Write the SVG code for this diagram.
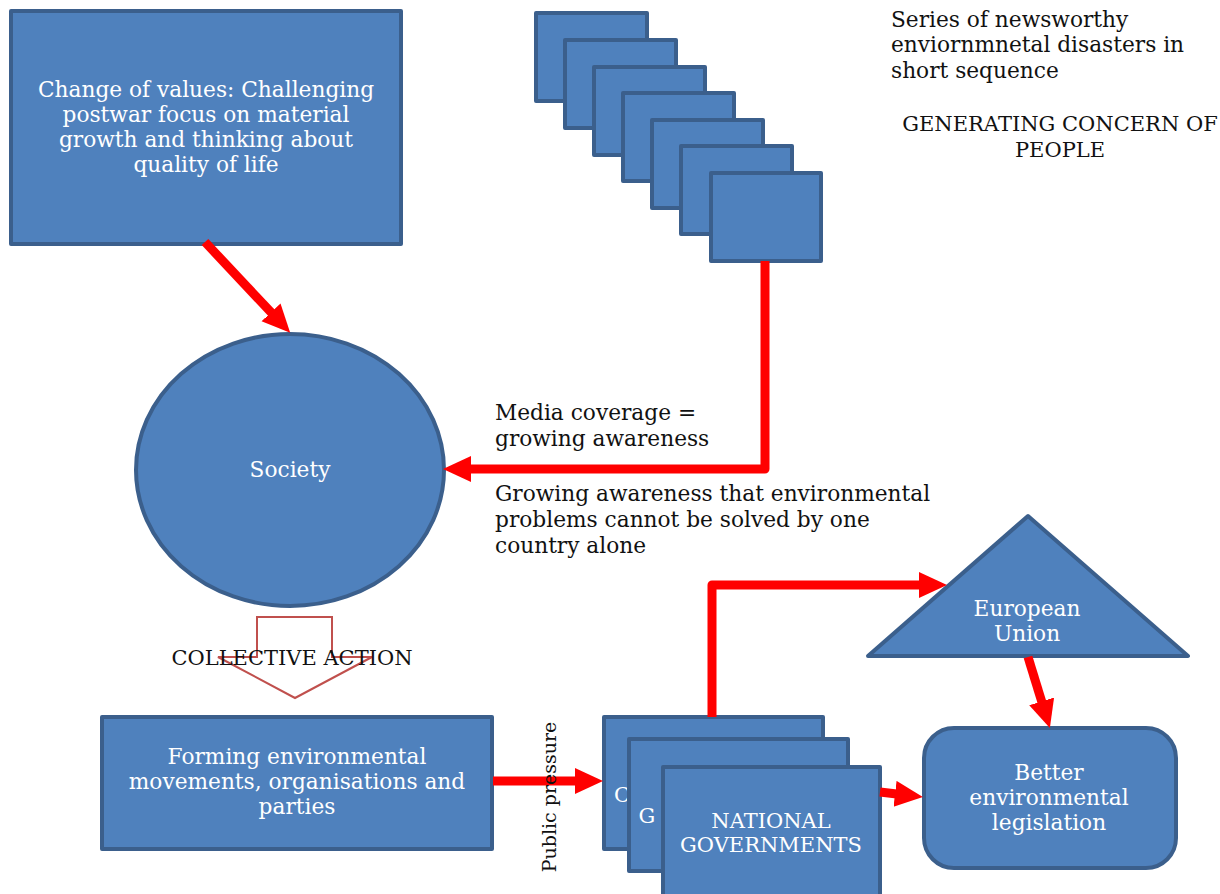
<svg xmlns="http://www.w3.org/2000/svg" width="1220" height="894" viewBox="0 0 1220 894">
<style>
.box{fill:#4f81bd;stroke:#3b5f8c;stroke-width:4;stroke-linejoin:round}
.wt{fill:#ffffff;font-family:"DejaVu Serif","Liberation Serif",serif;font-size:21.7px;text-anchor:middle}
.bt{fill:#111111;font-family:"DejaVu Serif","Liberation Serif",serif;font-size:21.7px}
.caps{font-size:21px}
.conn{fill:none;stroke:#ff0000;stroke-width:9;stroke-linejoin:round}
</style>
<defs>
<marker id="ah" markerUnits="userSpaceOnUse" markerWidth="30" markerHeight="28" refX="8" refY="13" orient="auto" viewBox="0 0 30 28">
<path d="M0,0 L28,13 L0,26 Z" fill="#ff0000"/>
</marker>
</defs>
<rect width="1220" height="894" fill="#ffffff"/>

<g id="values">
<rect class="box" x="11" y="11" width="390" height="233"/>
<text class="wt" x="206" y="97">Change of values: Challenging</text>
<text class="wt" x="206" y="122">postwar focus on material</text>
<text class="wt" x="206" y="147">growth and thinking about</text>
<text class="wt" x="206" y="172">quality of life</text>
</g>

<g id="disasters">
<rect class="box" x="536" y="13" width="111" height="88"/>
<rect class="box" x="565" y="40" width="111" height="88"/>
<rect class="box" x="594" y="67" width="111" height="88"/>
<rect class="box" x="623" y="93" width="111" height="88"/>
<rect class="box" x="652" y="120" width="111" height="88"/>
<rect class="box" x="681" y="146" width="111" height="88"/>
<rect class="box" x="711" y="173" width="110" height="88"/>
</g>

<g id="disasters-label">
<text class="bt" x="891" y="27">Series of newsworthy</text>
<text class="bt" x="891" y="52">enviornmnetal disasters in</text>
<text class="bt" x="891" y="78">short sequence</text>
<text class="bt caps" x="1060" y="131" text-anchor="middle">GENERATING CONCERN OF</text>
<text class="bt caps" x="1060" y="157" text-anchor="middle">PEOPLE</text>
</g>

<g id="society">
<ellipse class="box" cx="290" cy="470" rx="154" ry="136"/>
<text class="wt" x="290" y="477">Society</text>
</g>

<g id="collective-action">
<polygon points="257,617 332,617 332,657 372,657 295,698 218,657 257,657" fill="#ffffff" stroke="#c0504d" stroke-width="2"/>
<text class="bt caps" x="292" y="665" text-anchor="middle">COLLECTIVE ACTION</text>
</g>

<g id="movements">
<rect class="box" x="102" y="717" width="390" height="132"/>
<text class="wt" x="297" y="764">Forming environmental</text>
<text class="wt" x="297" y="789">movements, organisations and</text>
<text class="wt" x="297" y="814">parties</text>
</g>

<g id="national-governments">
<rect class="box" x="604" y="717" width="219" height="132"/>
<text class="wt caps" x="622" y="802" text-anchor="start">C</text>
<rect class="box" x="629" y="739" width="219" height="132"/>
<text class="wt caps" x="647" y="823" text-anchor="start">G</text>
<rect class="box" x="663" y="767" width="217" height="140"/>
<text class="wt caps" x="771" y="828">NATIONAL</text>
<text class="wt caps" x="771" y="852">GOVERNMENTS</text>
</g>

<g id="eu">
<polygon class="box" points="1028,516 1188,656 868,656"/>
<text class="wt" x="1027" y="616">European</text>
<text class="wt" x="1027" y="641">Union</text>
</g>

<g id="legislation">
<rect class="box" x="924" y="728" width="252" height="140" rx="30" ry="30"/>
<text class="wt" x="1049" y="780">Better</text>
<text class="wt" x="1049" y="805">environmental</text>
<text class="wt" x="1049" y="830">legislation</text>
</g>

<g id="connectors">
<path class="conn" d="M205,242 L276.5,318.2" marker-end="url(#ah)"/>
<path class="conn" d="M765,261 L765,469 L463,469" marker-end="url(#ah)"/>
<path class="conn" d="M493,781 L583,781" marker-end="url(#ah)"/>
<path class="conn" d="M712,717 L712,585 L927,585" marker-end="url(#ah)"/>
<path class="conn" d="M880,792 L903,794.7" marker-end="url(#ah)"/>
<path class="conn" d="M1028,657 L1044,709" marker-end="url(#ah)"/>
</g>

<g id="labels">
<text class="bt" x="495" y="420">Media coverage =</text>
<text class="bt" x="495" y="446">growing awareness</text>
<text class="bt" x="495" y="501">Growing awareness that environmental</text>
<text class="bt" x="495" y="527">problems cannot be solved by one</text>
<text class="bt" x="495" y="553">country alone</text>
<text class="bt" transform="translate(556,797) rotate(-90)" style="font-size:19px" text-anchor="middle">Public pressure</text>
</g>
</svg>
